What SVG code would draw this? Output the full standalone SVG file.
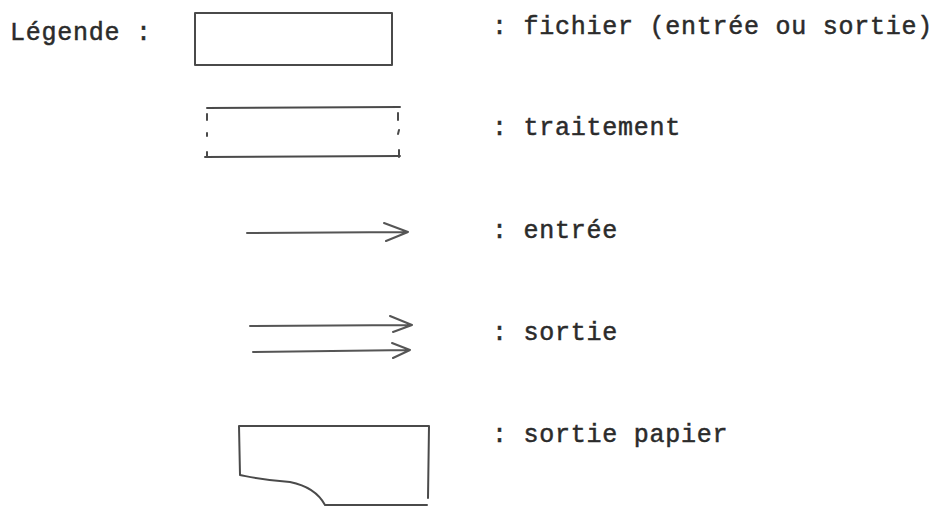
<svg xmlns="http://www.w3.org/2000/svg" width="940" height="506" viewBox="0 0 940 506">
<style>
.t{font-family:"Liberation Mono","DejaVu Sans Mono",monospace;font-size:25px;letter-spacing:0.75px;fill:#2b2b2b;stroke:#2b2b2b;stroke-width:0.5px}
.s{fill:none;stroke:#4a4a4a;stroke-width:2;stroke-linecap:round;stroke-linejoin:round}
.a{fill:none;stroke:#555;stroke-width:2;stroke-linecap:round;stroke-linejoin:round}
</style>
<rect width="940" height="506" fill="#ffffff"/>
<text class="t" x="10" y="40">Légende :</text>
<g id="fichier">
<rect class="s" x="195" y="13" width="197" height="52"/>
<text class="t" x="492" y="34">: fichier (entrée ou sortie)</text>
</g>
<g id="traitement">
<path class="s" d="M207 108 L400 107 M205 157 L400 156"/>
<path class="s" d="M207 114 L207 120 M207 133 L207 136 M207 152 L207 157 M398 113 L398 120 M399 130 L398 134 M399 150 L399 157"/>
<text class="t" x="492" y="135">: traitement</text>
</g>
<g id="connectors">
<g id="entree-arrow">
<path class="a" d="M247 233 L408 232 M384 223 L408 232 L386 241"/>
</g>
<g id="sortie-arrows">
<path class="a" d="M250 326 L412 325 M390 316 L412 325 L393 332"/>
<path class="a" d="M253 352 L410 350 M392 343 L410 350 L393 358"/>
</g>
</g>
<g id="entree">
<text class="t" x="492" y="238">: entrée</text>
</g>
<g id="sortie">
<text class="t" x="492" y="340">: sortie</text>
</g>
<g id="sortie-papier">
<path class="s" d="M239 426 L429 426 L428 498 M239 426 L240 475 C255 478 262 480 290 482 C305 485 318 492 325 505 L427 505"/>
<text class="t" x="492" y="442">: sortie papier</text>
</g>
</svg>
